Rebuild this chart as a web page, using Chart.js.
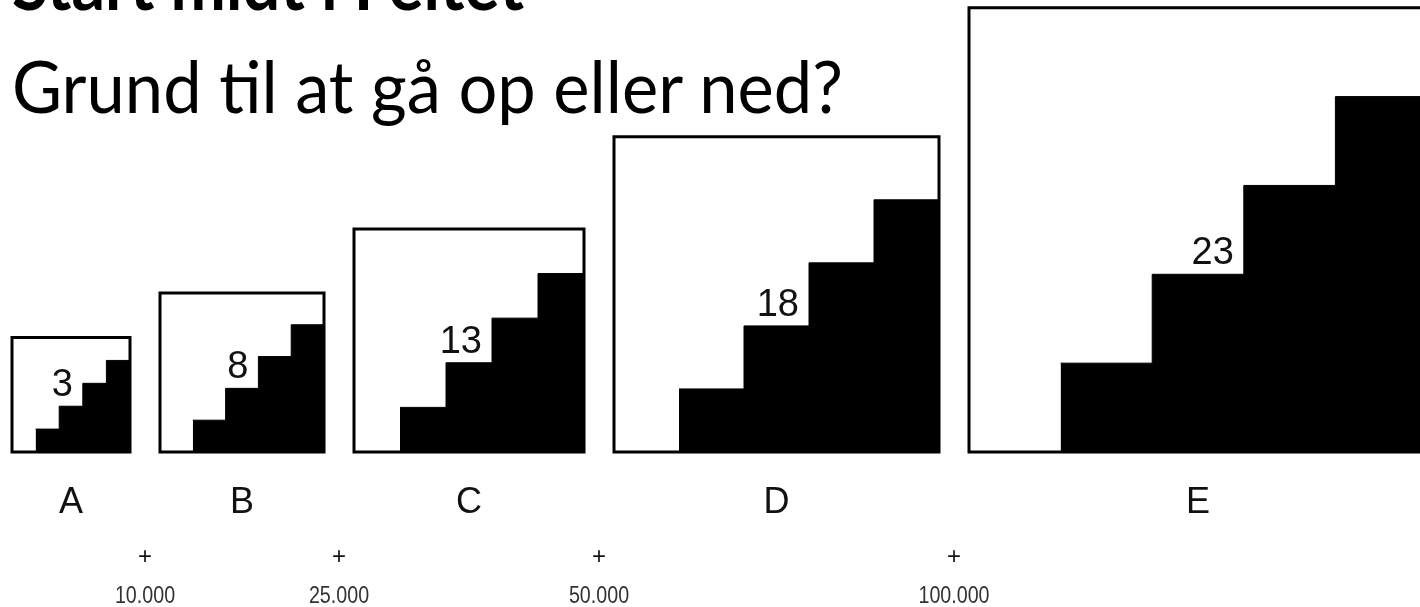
<!DOCTYPE html>
<html lang="da">
<head>
  <meta charset="UTF-8" />
  <title>Grund til at gå op eller ned?</title>
  <script src="https://cdn.jsdelivr.net/npm/chart.js"></script>
  <style>
    html, body { margin: 0; padding: 0; background: #fff; }
    body { width: 1420px; height: 607px; position: relative; overflow: hidden; }
    .head {
      position: absolute; left: 12px; margin: 0; white-space: nowrap;
      font-family: "Lato", "Open Sans", sans-serif; color: #000;
      transform-origin: 0 0; line-height: 1;
    }
    #head1 { font-weight: 700; font-size: 72px; }
    #head2 { font-weight: 400; font-size: 72px; }
    #wrap { position: absolute; left: 0; top: 0; width: 1420px; height: 607px; }
  </style>
</head>
<body>
  <div id="wrap"><canvas id="stairChart"></canvas></div>
  <div class="head" id="head1">Start midt i Feltet</div>
  <div class="head" id="head2">Grund til at gå op eller ned?</div>

  <script>
    // === Data ===
    const categories = ["A", "B", "C", "D", "E"];
    const scores = [3, 8, 13, 18, 23];
    const boxSide = [118, 164, 230, 325, 458];   // side of each box in x-axis units
    const increments = ["10.000", "25.000", "50.000", "100.000"];

    // layout
    const START_X = 12;
    const GAP = 30;
    const Y_RATIO = 0.97;     // box height vs width on screen
    const BASE_PX = 452;      // pixel row of the box bottoms
    const W = 1420, H = 607;

    // left edge of every box, boxes sit one after another
    const boxLeft = [];
    let cur = START_X;
    boxSide.forEach(s => { boxLeft.push(cur); cur += s + GAP; });

    const datasets = [];
    categories.forEach((cat, i) => {
      const L = boxLeft[i], s = boxSide[i], u = s / 5;
      // black staircase, 4 steps
      const stairs = [];
      for (let k = 1; k <= 4; k++) stairs.push({ x: L + k * u, y: k * u });
      stairs.push({ x: L + s, y: 4 * u });
      datasets.push({
        label: cat + " steps",
        data: stairs,
        showLine: true,
        stepped: "before",
        fill: "origin",
        backgroundColor: "#000",
        borderColor: "#000",
        borderWidth: 1,
        pointRadius: 0,
        order: 2
      });
      // box outline
      datasets.push({
        label: cat,
        data: [{ x: L, y: 0 }, { x: L, y: s }, { x: L + s, y: s }, { x: L + s, y: 0 }, { x: L, y: 0 }],
        showLine: true,
        fill: false,
        borderColor: "#000",
        borderWidth: 3,
        borderJoinStyle: "miter",
        borderCapStyle: "square",
        pointRadius: 0,
        order: 1
      });
    });

    // === Texts: scores, letters, increments ===
    const textPlugin = {
      id: "stairTexts",
      afterDatasetsDraw(chart) {
        const ctx = chart.ctx;
        const xs = chart.scales.x, ys = chart.scales.y;
        const base = ys.getPixelForValue(0);
        ctx.save();
        ctx.fillStyle = "#111";
        categories.forEach((cat, i) => {
          const L = boxLeft[i], s = boxSide[i], u = s / 5;
          // score next to the third step
          ctx.font = '38px "Liberation Sans", Arial, sans-serif';
          ctx.textAlign = "right";
          ctx.textBaseline = "alphabetic";
          ctx.fillText(String(scores[i]), xs.getPixelForValue(L + 3 * u) - 10, ys.getPixelForValue(2 * u) - 10);
          // letter under the box
          ctx.font = '36px "Liberation Sans", Arial, sans-serif';
          ctx.textAlign = "center";
          ctx.fillText(cat, xs.getPixelForValue(L + s / 2), base + 61);
        });
        increments.forEach((txt, i) => {
          const mid = (boxLeft[i] + boxSide[i] + boxLeft[i + 1]) / 2;
          const px = xs.getPixelForValue(mid);
          ctx.textAlign = "center";
          ctx.font = '24px "Liberation Sans", Arial, sans-serif';
          ctx.fillText("+", px, base + 112);
          ctx.save();
          ctx.translate(px, base + 151);
          ctx.scale(0.82, 1);
          ctx.font = '24px "Liberation Sans Narrow", "Liberation Sans", Arial, sans-serif';
          ctx.fillStyle = "#333";
          ctx.fillText(txt, 0, 0);
          ctx.restore();
        });
        ctx.restore();
      }
    };

    const ctx = document.getElementById("stairChart").getContext("2d");
    new Chart(ctx, {
      type: "scatter",
      data: { datasets: datasets },
      options: {
        responsive: true,
        maintainAspectRatio: false,
        animation: false,
        events: [],
        layout: { padding: 0 },
        plugins: { legend: { display: false }, tooltip: { enabled: false } },
        scales: {
          x: { type: "linear", display: false, min: 0, max: W },
          y: { type: "linear", display: false, min: -(H - BASE_PX) / Y_RATIO, max: BASE_PX / Y_RATIO }
        }
      },
      plugins: [textPlugin]
    });

    // === Fit the two heading lines to the picture ===
    function fitHead(id, width, baseline) {
      const el = document.getElementById(id);
      const r = el.getBoundingClientRect();
      el.style.transform = "scaleX(" + (width / r.width) + ")";
      // line-height 1 with Lato: baseline sits about 0.887 of the font size from the top
      const fs = parseFloat(getComputedStyle(el).fontSize);
      el.style.top = (baseline - fs * 0.887) + "px";
    }
    fitHead("head1", 512, 10);
    fitHead("head2", 831, 113);
  </script>
</body>
</html>
